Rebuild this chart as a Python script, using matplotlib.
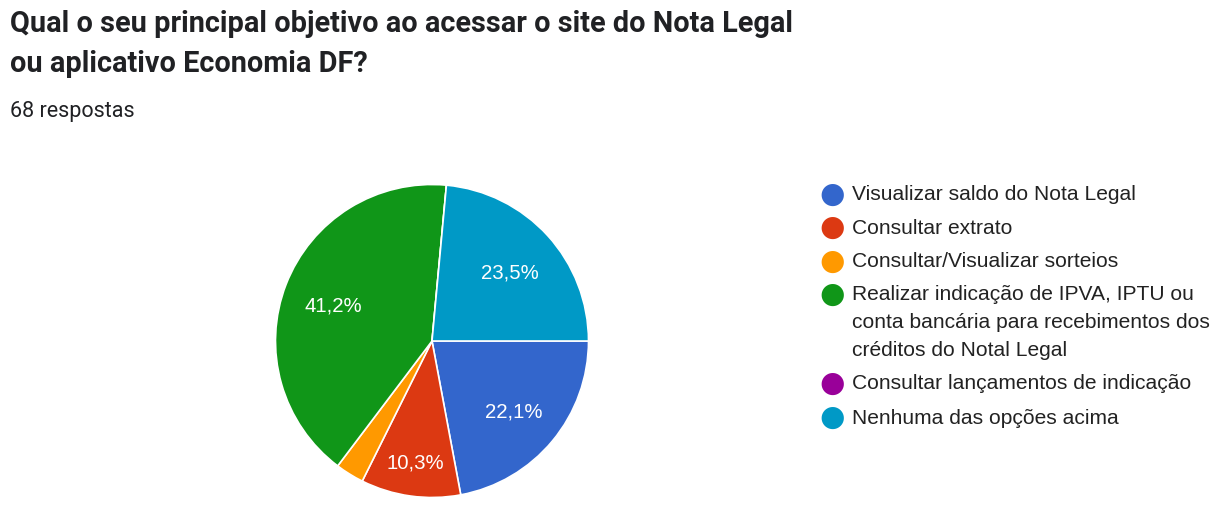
import matplotlib
matplotlib.use("Agg")
from matplotlib import pyplot as plt
import numpy as np

# data
title_lines = ["Qual o seu principal objetivo ao acessar o site do Nota Legal",
               "ou aplicativo Economia DF?"]
subtitle = "68 respostas"
labels = ["Visualizar saldo do Nota Legal",
          "Consultar extrato",
          "Consultar/Visualizar sorteios",
          "Realizar indicação de IPVA, IPTU ou\nconta bancária para recebimentos dos\ncréditos do Notal Legal",
          "Consultar lançamentos de indicação",
          "Nenhuma das opções acima"]
counts = [15, 7, 2, 28, 0, 16]
colors = ["#3366cc", "#dc3912", "#ff9900", "#109618", "#990099", "#0099c6"]

W, H = 1220, 519
fig = plt.figure(figsize=(W / 100, H / 100), dpi=100)
fig.patch.set_facecolor("white")


def fy(ypx):
    return 1 - ypx / H


# title
fig.text(10 / W, fy(31.5), title_lines[0], fontsize=20.8, fontweight="bold",
         family="Roboto", color="#202124", va="baseline")
fig.text(10 / W, fy(71.5), title_lines[1], fontsize=20.8, fontweight="bold",
         family="Roboto", color="#202124", va="baseline")
fig.text(10 / W, fy(117), subtitle, fontsize=15.5, family="Roboto",
         color="#202124", va="baseline")

# pie
cx, cy, r = 432, 341, 156.5
ax = fig.add_axes([(cx - r) / W, (H - cy - r) / H, 2 * r / W, 2 * r / H])


def fmt(pct):
    if pct < 5:
        return ""
    return f"{pct:.1f}".replace(".", ",") + "%"


wedges, _, autotexts = ax.pie(counts, colors=colors, startangle=0,
                              counterclock=False, autopct=fmt,
                              pctdistance=0.675,
                              wedgeprops=dict(edgecolor="white", linewidth=1.2),
                              textprops=dict(color="white", fontsize=14.7,
                                             family="Liberation Sans"))
# narrow slice: push its label further out, like the original does
for w, t in zip(wedges, autotexts):
    span = abs(w.theta2 - w.theta1)
    if t.get_text() and span < 45:
        ang = np.deg2rad((w.theta1 + w.theta2) / 2)
        t.set_position((0.77 * np.cos(ang), 0.77 * np.sin(ang)))
for t in autotexts:
    x, y = t.get_position()
    t.set_position((x, y - 0.02))
ax.set_xlim(-1, 1)
ax.set_ylim(-1, 1)
ax.axis("off")

# legend
row_y = [195, 228, 261.5, 295, 383.5, 418]
line_gap = 28
for lab, col, yy in zip(labels, colors, row_y):
    fig.text(832.5 / W, fy(yy), "\u25CF", fontsize=21, color=col,
             family="DejaVu Sans", ha="center", va="center")
    for k, line in enumerate(lab.split("\n")):
        fig.text(852 / W, fy(yy + k * line_gap), line, fontsize=15.1,
                 family="Liberation Sans", color="#222222", va="center")

fig.savefig("out.png", dpi=100)
